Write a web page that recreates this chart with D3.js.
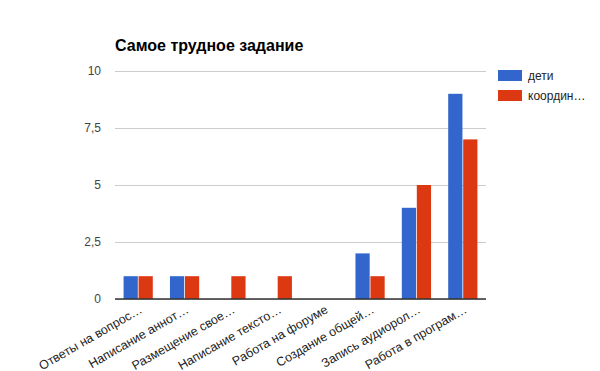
<!DOCTYPE html>
<html><head><meta charset="utf-8">
<script src="https://cdn.jsdelivr.net/npm/d3@7"></script>
<style>body{margin:0;background:#fff}svg{display:block;font-family:Arial,"Liberation Sans",sans-serif}</style>
</head><body><svg id="c" width="600" height="371"></svg>
<script>
const categories = ["Ответы на вопрос…","Написание аннот…","Размещение свое…","Написание тексто…","Работа на форуме","Создание общей…","Запись аудиорол…","Работа в програм…"];
const seriesNames = ["дети","координ…"];
const deti = [1,1,0,0,0,2,4,9];
const koord = [1,1,1,1,0,1,5,7];
const yTicks = [0,2.5,5,7.5,10];
const yTickLabels = ["0","2,5","5","7,5","10"];
const colors = ["#3366cc","#dc3912"];

const svg = d3.select("#c");
const L=115,R=486,T=71,B=299;
const x = d3.scaleBand().domain(categories).range([L,R]).paddingInner(0.37).paddingOuter(0.185);
const xs = d3.scaleBand().domain(seriesNames).range([0,x.bandwidth()]).paddingInner(0.05);
const y = d3.scaleLinear().domain([0,10]).range([B,T]);

svg.append("text").attr("x",115).attr("y",51).attr("font-size",16).attr("font-weight","bold").attr("fill","#000").text("Самое трудное задание");

const g = svg.append("g");
g.selectAll("line.grid").data(yTicks).join("line").attr("class","grid")
 .attr("x1",L).attr("x2",R).attr("y1",d=>y(d)).attr("y2",d=>y(d))
 .attr("stroke","#cccccc").attr("stroke-width",1).attr("shape-rendering","crispEdges");

const yAxis = d3.axisLeft(y).tickValues(yTicks).tickFormat((d,i)=>yTickLabels[i]).tickSize(0).tickPadding(14);
svg.append("g").attr("transform",`translate(${L},0)`).call(yAxis)
 .call(s=>s.select(".domain").remove())
 .selectAll("text").attr("font-size",12).attr("fill","#444").attr("font-family","Arial,'Liberation Sans',sans-serif");

const data = categories.map((c,i)=>({c,vals:[deti[i],koord[i]]}));
const grp = svg.append("g").selectAll("g").data(data).join("g").attr("transform",d=>`translate(${x(d.c)},0)`);
grp.selectAll("rect").data(d=>d.vals.map((v,j)=>({v,j}))).join("rect")
 .attr("x",d=>xs(seriesNames[d.j])).attr("width",xs.bandwidth())
 .attr("y",d=>y(d.v)).attr("height",d=>B-y(d.v)).attr("fill",d=>colors[d.j]);

svg.append("line").attr("x1",L).attr("x2",R).attr("y1",B).attr("y2",B).attr("stroke","#333").attr("stroke-width",1.5);

const xAxis = d3.axisBottom(x).tickSize(0).tickPadding(0);
svg.append("g").attr("transform",`translate(0,${B})`).call(xAxis)
 .call(s=>s.select(".domain").remove())
 .selectAll("text").attr("font-size",12.5).attr("fill","#222").attr("font-family","Arial,'Liberation Sans',sans-serif")
 .attr("text-anchor","end").attr("dy",null).attr("y",0)
 .attr("transform","translate(5,13) rotate(-30)");

const leg = svg.append("g").attr("transform","translate(498,70)");
seriesNames.forEach((n,i)=>{
 leg.append("rect").attr("x",0).attr("y",i*20).attr("width",24).attr("height",11).attr("fill",colors[i]);
 leg.append("text").attr("x",30).attr("y",i*20+10).attr("font-size",12).attr("fill","#222").text(n);
});
</script></body></html>
